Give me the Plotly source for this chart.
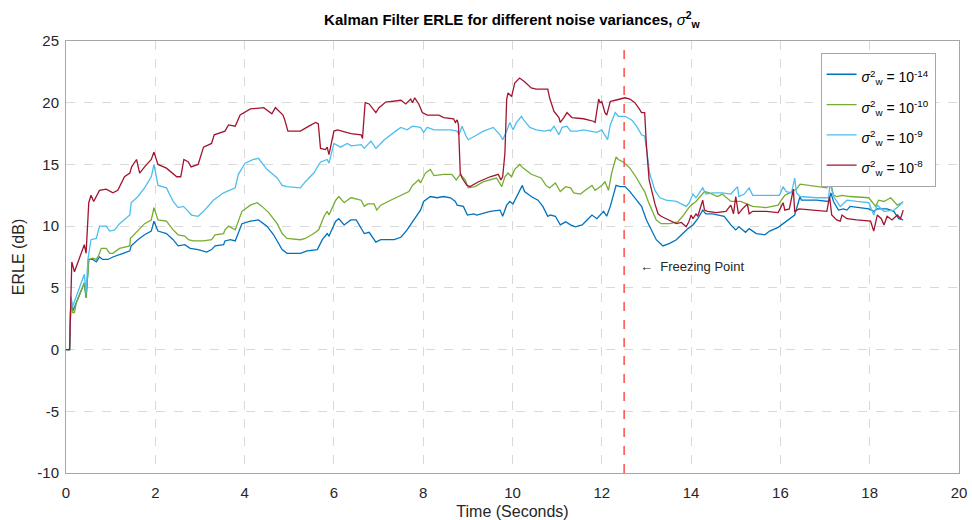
import plotly.graph_objects as go

# ---------------- data ----------------
t_1e14 = [0, 0.08, 0.11, 0.15, 0.23, 0.41, 0.45, 0.51, 0.6, 0.68,
          0.75, 0.82, 0.94, 1.05, 1.28, 1.43, 1.46, 1.61, 1.76, 1.91,
          1.97, 2.06, 2.25, 2.4, 2.51, 2.66, 2.78, 2.96, 3.15, 3.26,
          3.34, 3.53, 3.56, 3.68, 3.79, 3.94, 4.13, 4.31, 4.5, 4.65,
          4.84, 4.95, 5.25, 5.4, 5.63, 5.74, 5.85, 5.89, 6.04, 6.11,
          6.23, 6.38,
          6.5, 6.61, 6.68, 6.79, 6.94, 7.05, 7.35, 7.5, 7.64, 7.76,
          7.87, 7.94, 8.01, 8.16, 8.31, 8.46, 8.61, 8.72, 8.76, 8.9,
          8.99, 9.13, 9.2, 9.5, 9.72, 9.78, 9.87, 9.94, 10.01, 10.13,
          10.22, 10.27, 10.42, 10.57, 10.68, 10.79,
          10.85, 10.96, 11.07, 11.19, 11.3, 11.41, 11.56, 11.67, 11.78, 11.89,
          12.04, 12.11, 12.19, 12.32, 12.41, 12.52, 12.63, 12.78, 12.89, 13.0,
          13.11, 13.22, 13.37, 13.52, 13.67, 13.81, 13.93, 14.04, 14.15, 14.26,
          14.33, 14.48, 14.63, 14.74, 14.89, 15.0, 15.07, 15.22, 15.3,
          15.46, 15.65, 15.76, 15.95, 16.02, 16.17, 16.32, 16.44, 16.47, 16.81,
          17.08, 17.13, 17.19, 17.3, 17.41, 17.49, 17.56, 17.98, 18.09, 18.17,
          18.39, 18.54, 18.65, 18.75]
erle_1e14 = [0, 0, 4.2, 3.1, 3.8, 5.4, 4.2, 7.3, 7.3, 7.1,
             7.5, 7.3, 7.3, 7.5, 7.8, 8.0, 8.4, 8.9, 9.3, 9.6,
             10.4, 9.6, 9.4, 8.9, 8.4, 8.5, 8.2, 8.1, 7.9, 8.1,
             8.4, 8.5, 8.8, 8.9, 8.8, 10.2, 10.4, 10.5, 10.0, 9.3,
             8.1, 7.8, 7.8, 8.0, 8.1, 8.9, 9.4, 9.2, 10.4, 10.6,
             10.1, 10.5,
             10.5, 9.8, 9.4, 9.5, 8.7, 8.9, 8.9, 9.1, 9.7, 10.35,
             11.0, 11.3, 12.0, 12.4, 12.3, 12.4, 12.3, 12.0, 11.7, 11.6,
             10.9, 11.0, 10.9, 11.2, 11.3, 10.8, 11.7, 12.0, 11.8, 12.7,
             13.3, 12.8, 12.4, 12.1, 11.6, 10.8,
             10.9, 10.8, 10.1, 10.35, 10.1, 9.95, 10.1, 10.5, 10.9, 10.6,
             11.2, 10.8, 11.6, 13.3, 13.2, 13.2, 12.8, 12.1, 11.6, 10.5,
             9.7, 8.9, 8.4, 8.6, 8.9, 9.4, 9.8, 10.1, 10.6, 11.3,
             11.0, 11.0, 10.9, 10.8, 10.1, 9.7, 9.95, 9.5, 9.8,
             9.4, 9.3, 9.6, 9.9, 10.1, 10.5, 10.9, 12.4, 12.1, 12.1,
             12.0, 12.7, 12.0, 11.3, 11.4, 11.3, 11.6, 11.4, 11.2, 11.4,
             11.4, 11.2, 10.6, 10.5]

t_1e10 = [0, 0.08, 0.11, 0.15, 0.19, 0.23, 0.41, 0.45, 0.51, 0.6,
          0.68, 0.74, 0.79, 0.9, 0.98, 1.05, 1.2, 1.43, 1.44, 1.65,
          1.76, 1.91, 1.97, 2.06, 2.25, 2.4, 2.51, 2.66, 2.74, 2.85,
          3.08, 3.26, 3.34, 3.53, 3.56, 3.64, 3.79, 3.94, 4.13, 4.28,
          4.39, 4.54, 4.73, 4.84, 4.95, 5.25, 5.36, 5.55, 5.66, 5.78,
          5.85, 5.89, 6.04, 6.11, 6.23, 6.38,
          6.39, 6.61, 6.68, 6.76, 6.9, 6.96, 7.05, 7.27, 7.5, 7.68,
          7.76, 7.9, 7.94, 8.05, 8.16, 8.24, 8.46, 8.64, 8.74, 8.83,
          8.94, 9.01, 9.16, 9.35, 9.64, 9.76, 9.83, 9.9, 9.98, 10.05,
          10.16, 10.24, 10.42, 10.64, 10.75, 10.83,
          10.96, 11.07, 11.19, 11.3, 11.37, 11.52, 11.63, 11.78, 11.85, 12.0,
          12.07, 12.15, 12.22, 12.32, 12.37, 12.48, 12.63, 12.78, 12.89, 12.96,
          13.04, 13.11, 13.22, 13.33, 13.52, 13.7, 13.81, 13.93, 14.0, 14.11,
          14.22, 14.3, 14.41, 14.59, 14.7, 14.89, 15.11, 15.3,
          15.38, 15.68, 15.95, 16.02, 16.1, 16.21, 16.36, 16.44, 16.81, 17.04,
          17.11, 17.19, 17.26, 17.38, 17.56, 17.98, 18.13, 18.2, 18.32, 18.47,
          18.62, 18.73]
erle_1e10 = [0, 0, 4.0, 3.0, 3.0, 3.8, 5.4, 4.2, 7.3, 7.4,
             7.3, 7.7, 8.2, 8.2, 7.8, 7.8, 8.2, 8.4, 9.0, 9.8,
             10.2, 10.5, 11.5, 10.5, 10.4, 9.7, 9.3, 9.2, 8.9, 8.8,
             8.8, 8.9, 9.3, 9.4, 9.7, 10.0, 9.7, 11.2, 11.7, 11.9,
             11.6, 11.1, 10.2, 9.4, 9.0, 8.9, 9.0, 9.4, 9.7, 10.8,
             11.2, 10.9, 12.1, 12.4, 11.9, 12.3,
             12.3, 12.1, 11.6, 11.8, 11.8, 11.3, 11.7, 12.1, 12.5, 12.8,
             13.3, 13.75, 13.5, 14.3, 14.6, 14.1, 14.2, 14.2, 13.75, 14.2,
             13.75, 13.1, 13.2, 13.6, 13.9, 13.2, 14.0, 14.3, 14.0, 14.6,
             15.0, 14.7, 14.2, 13.9, 13.3, 13.1,
             13.5, 12.8, 13.2, 13.1, 12.7, 12.6, 12.9, 13.3, 12.9, 13.3,
             13.6, 12.9, 14.3, 15.6, 15.4, 15.2, 14.7, 13.9, 13.2, 12.8,
             12.0, 11.4, 10.5, 10.2, 10.2, 10.35, 10.8, 11.4, 11.7, 12.0,
             12.5, 12.8, 12.7, 12.4, 12.6, 12.0, 12.0, 11.7,
             11.6, 11.5, 11.7, 12.1, 12.5, 12.7, 13.0, 13.4, 13.2, 13.1,
             13.8, 12.5, 12.4, 12.5, 12.4, 12.3, 11.6, 12.1, 12.0, 12.3,
             11.7, 11.9]

t_1e9 = [0, 0.08, 0.11, 0.15, 0.23, 0.38, 0.41, 0.45, 0.49, 0.56,
         0.68, 0.75, 0.9, 0.98, 1.09, 1.2, 1.43, 1.46, 1.61, 1.76,
         1.91, 1.97, 2.06, 2.25, 2.4, 2.51, 2.63, 2.74, 2.81, 2.96,
         3.08, 3.3, 3.53, 3.79, 3.86, 4.01, 4.2, 4.31, 4.5, 4.73,
         4.84, 4.95, 5.25, 5.36, 5.55, 5.7, 5.85, 5.89, 6.0, 6.15,
         6.3,
         6.39, 6.61, 6.68, 6.83, 6.94, 7.13, 7.42, 7.5, 7.64, 7.76,
         7.94, 8.01, 8.09, 8.24, 8.61, 8.76, 8.8, 8.87, 8.96, 9.01,
         9.16, 9.35, 9.57, 9.72, 9.78, 9.87, 9.94, 10.01, 10.09, 10.2,
         10.27, 10.39, 10.53, 10.72, 10.83,
         10.85, 10.93, 11.04, 11.11, 11.22, 11.3, 11.44, 11.59, 11.78, 11.89,
         12.0, 12.07, 12.13, 12.19, 12.3, 12.37, 12.52, 12.67, 12.78, 12.89,
         12.96, 13.0, 13.07, 13.19, 13.3, 13.44, 13.67, 13.89, 13.96, 14.04,
         14.11, 14.26, 14.33, 14.48, 14.7, 14.89, 15.04, 15.07, 15.19, 15.3,
         15.38, 15.68, 15.98, 16.06, 16.13, 16.25, 16.32, 16.36, 16.44, 16.81,
         17.08, 17.11, 17.19, 17.34, 17.49, 17.71, 17.98, 18.09, 18.17, 18.32,
         18.54, 18.65, 18.75]
erle_1e9 = [0, 0, 4.3, 3.5, 4.3, 5.7, 6.1, 4.6, 7.3, 8.9,
            9.0, 10.0, 10.0, 9.6, 9.7, 10.2, 10.9, 11.9, 12.4, 13.1,
            14.0, 15.0, 13.3, 13.1, 12.0, 11.5, 11.6, 11.2, 10.9, 10.8,
            11.2, 12.1, 12.7, 13.1, 14.2, 15.1, 15.4, 15.5, 14.6, 13.9,
            13.3, 13.2, 13.1, 13.6, 14.3, 15.2, 15.4, 15.1, 16.7, 16.4,
            16.7,
            16.5, 16.6, 16.3, 16.9, 16.3, 17.0, 17.8, 18.0, 17.8, 18.1,
            18.0, 17.6, 18.0, 17.8, 17.8, 17.7, 17.4, 18.1, 17.3, 17.0,
            17.3, 17.7, 18.0, 17.4, 17.0, 17.7, 18.4, 17.8, 18.4, 18.9,
            18.5, 18.0, 17.8, 17.7, 17.8,
            17.7, 18.1, 17.4, 18.0, 18.1, 17.7, 17.7, 17.8, 17.7, 17.6,
            17.8, 17.4, 17.0, 18.2, 19.2, 18.9, 18.9, 18.6, 18.1, 17.4,
            17.3, 16.3, 14.3, 12.9, 12.3, 12.1, 12.0, 11.6, 11.9, 12.6,
            12.3, 13.1, 12.6, 12.7, 12.7, 12.6, 13.2, 12.4, 12.6, 13.1,
            12.5, 12.5, 12.5, 13.2, 12.8, 12.7, 13.9, 12.7, 12.4, 12.3,
            12.3, 13.5, 12.4, 11.6, 12.1, 12.0, 11.9, 10.9, 11.7, 11.2,
            11.3, 11.6, 12.0]

t_1e8 = [0, 0.08, 0.13, 0.19, 0.41, 0.45, 0.51, 0.56, 0.62, 0.75,
         0.9, 1.05, 1.16, 1.31, 1.43, 1.47, 1.58, 1.65, 1.76, 1.91,
         1.97, 2.06, 2.25, 2.48, 2.57, 2.64, 2.74, 2.8, 2.96, 3.08,
         3.26, 3.32, 3.56, 3.64, 3.79, 3.9, 4.13, 4.43, 4.61, 4.69,
         4.86, 4.9, 4.97, 5.25, 5.44, 5.59, 5.65, 5.7, 5.81, 5.85,
         5.89, 6.0, 6.08, 6.38,
         6.61, 6.64, 6.7, 6.79, 6.94, 7.01, 7.16, 7.5, 7.61, 7.72,
         7.76, 7.81, 7.9, 7.98, 8.09, 8.35, 8.46, 8.68, 8.72, 8.76,
         8.79, 8.83, 8.87, 8.98, 9.05, 9.24, 9.5, 9.68, 9.74, 9.78,
         9.83, 9.87, 9.9, 9.98, 10.05, 10.16, 10.27, 10.42, 10.53, 10.68,
         10.79, 10.83,
         10.93, 11.04, 11.07, 11.15, 11.22, 11.33, 11.59, 11.81, 11.85, 11.93,
         11.96, 12.0, 12.07, 12.11, 12.19, 12.3, 12.41, 12.52, 12.63, 12.74,
         12.84, 12.89, 12.96, 13.0, 13.06, 13.11, 13.19, 13.26, 13.33, 13.44,
         13.56, 13.67, 13.78, 13.89, 13.95, 14.0, 14.04, 14.11, 14.15, 14.26,
         14.3, 14.37, 14.56, 14.78, 14.89, 14.95, 15.0, 15.06, 15.15, 15.26,
         15.3,
         15.38, 15.68, 15.95, 16.02, 16.06, 16.1, 16.2, 16.29, 16.32, 16.42,
         16.81, 17.04, 17.1, 17.15, 17.26, 17.34, 17.38, 17.49, 17.71, 18.02,
         18.09, 18.17, 18.26, 18.32, 18.39, 18.5, 18.62, 18.69, 18.75]
erle_1e8 = [0, 0, 7.1, 6.3, 8.5, 7.8, 11.9, 12.5, 12.0, 12.9,
            13.0, 12.7, 12.9, 14.0, 14.3, 14.8, 15.4, 14.3, 14.8, 15.4,
            16.0, 15.0, 14.7, 14.0, 14.0, 15.4, 15.2, 14.8, 15.0, 16.4,
            16.7, 17.4, 17.7, 18.2, 18.1, 19.0, 19.5, 19.6, 19.1, 19.6,
            19.0, 18.6, 17.7, 17.7, 18.1, 18.4, 18.3, 16.3, 16.2, 16.4,
            15.8, 17.7, 17.8, 17.5,
            17.4, 17.1, 20.0, 19.9, 19.2, 19.6, 20.05, 20.2, 19.9, 20.3,
            20.0, 20.4, 19.9, 19.2, 19.0, 19.0, 18.8, 18.7, 18.4, 18.6,
            18.2, 14.3, 13.9, 13.3, 13.2, 13.6, 14.0, 14.2, 13.75, 14.0,
            15.9, 20.3, 20.8, 20.5, 21.6, 22.0, 21.7, 21.2, 21.1, 21.1,
            21.1, 20.4,
            19.3, 18.8, 18.4, 18.8, 19.2, 18.8, 18.7, 18.5, 18.4, 20.3,
            20.0, 20.1, 19.2, 19.0, 20.1, 20.2, 20.3, 20.4, 20.3, 20.0,
            19.5, 19.2, 19.2, 16.5, 13.75, 12.9, 11.8, 11.0, 10.8, 10.6,
            10.4, 10.2, 10.3, 9.95, 10.35, 10.9, 10.6, 11.0, 10.8, 12.1,
            11.3, 11.2, 11.1, 11.2, 11.7, 11.0, 12.4, 11.0, 11.4, 11.8,
            11.0,
            11.2, 11.2, 11.1, 11.6, 11.9, 11.3, 11.4, 13.0, 11.2, 11.4,
            11.3, 11.2, 12.4, 10.9, 10.5, 10.4, 10.9, 10.6, 10.5, 10.4,
            9.6, 10.9, 10.6, 10.1, 10.8, 10.5, 10.9, 10.6, 11.3]

series_exponents = ["-14", "-10", "-9", "-8"]
series_colors = ["#0072BD", "#77AC30", "#4DBEEE", "#A2142F"]

freeze_time = 12.5
freeze_label = "←  Freezing Point"
x_ticks = list(range(0, 21, 2))
y_ticks = list(range(-10, 26, 5))

# ---------------- figure ----------------
FONT = "Liberation Sans, Arial, Helvetica, sans-serif"
fig = go.Figure()
for t, v, ex, col in zip([t_1e14, t_1e10, t_1e9, t_1e8],
                         [erle_1e14, erle_1e10, erle_1e9, erle_1e8],
                         series_exponents, series_colors):
    name = ('<span style="font-size:14px"><i>σ</i><sup>2</sup><sub>w</sub>'
            ' = 10<sup>%s</sup></span>' % ex)
    fig.add_trace(go.Scatter(x=t, y=v, mode="lines", name=name,
                             line=dict(color=col, width=1.3)))

fig.add_shape(type="line", xref="x", yref="y",
              x0=freeze_time, x1=freeze_time, y0=y_ticks[0], y1=y_ticks[-1],
              line=dict(color="#ff4d4d", width=1.5, dash="dash"))

fig.add_annotation(x=freeze_time + 0.3, y=6.7, xref="x", yref="y",
                   text=freeze_label, showarrow=False, xanchor="left",
                   yanchor="middle", font=dict(family=FONT, size=13, color="#262626"))

axis_common = dict(showgrid=True, gridcolor="#d9d9d9", griddash="dash", gridwidth=1,
                   showline=True, linecolor="#a6a6a6", linewidth=1, mirror=True,
                   zeroline=False, ticks="", automargin=False,
                   tickfont=dict(family=FONT, size=15, color="#262626"))

fig.update_layout(
    width=972, height=520,
    margin=dict(l=66, r=13, t=41, b=47),
    paper_bgcolor="white", plot_bgcolor="white",
    font=dict(family=FONT, color="#262626"),
    title=dict(text="<b>Kalman Filter ERLE for different noise variances, </b><i>σ</i><b><sup>2</sup><sub>w</sub></b>",
               x=0.5267, xanchor="center", y=0.962, yanchor="middle",
               font=dict(family=FONT, size=15, color="#000000")),
    xaxis=dict(range=[0, 20], tickvals=x_ticks, ticktext=[str(v) for v in x_ticks],
               ticklabelstandoff=6,
               title=dict(text="Time (Seconds)", standoff=8,
                          font=dict(family=FONT, size=16, color="#262626")),
               **axis_common),
    yaxis=dict(range=[-10, 25], tickvals=y_ticks, ticktext=[str(v) for v in y_ticks],
               ticklabelstandoff=3,
               title=dict(text="ERLE (dB)", standoff=8,
                          font=dict(family=FONT, size=16, color="#262626")),
               **axis_common),
    legend=dict(x=0.845, y=0.972, xanchor="left", yanchor="top",
                bgcolor="white", bordercolor="#a6a6a6", borderwidth=1,
                font=dict(family=FONT, size=21, color="#000000"),
                itemwidth=30, tracegroupgap=0, valign="middle"),
    showlegend=True,
)

fig.write_html("out.html")
